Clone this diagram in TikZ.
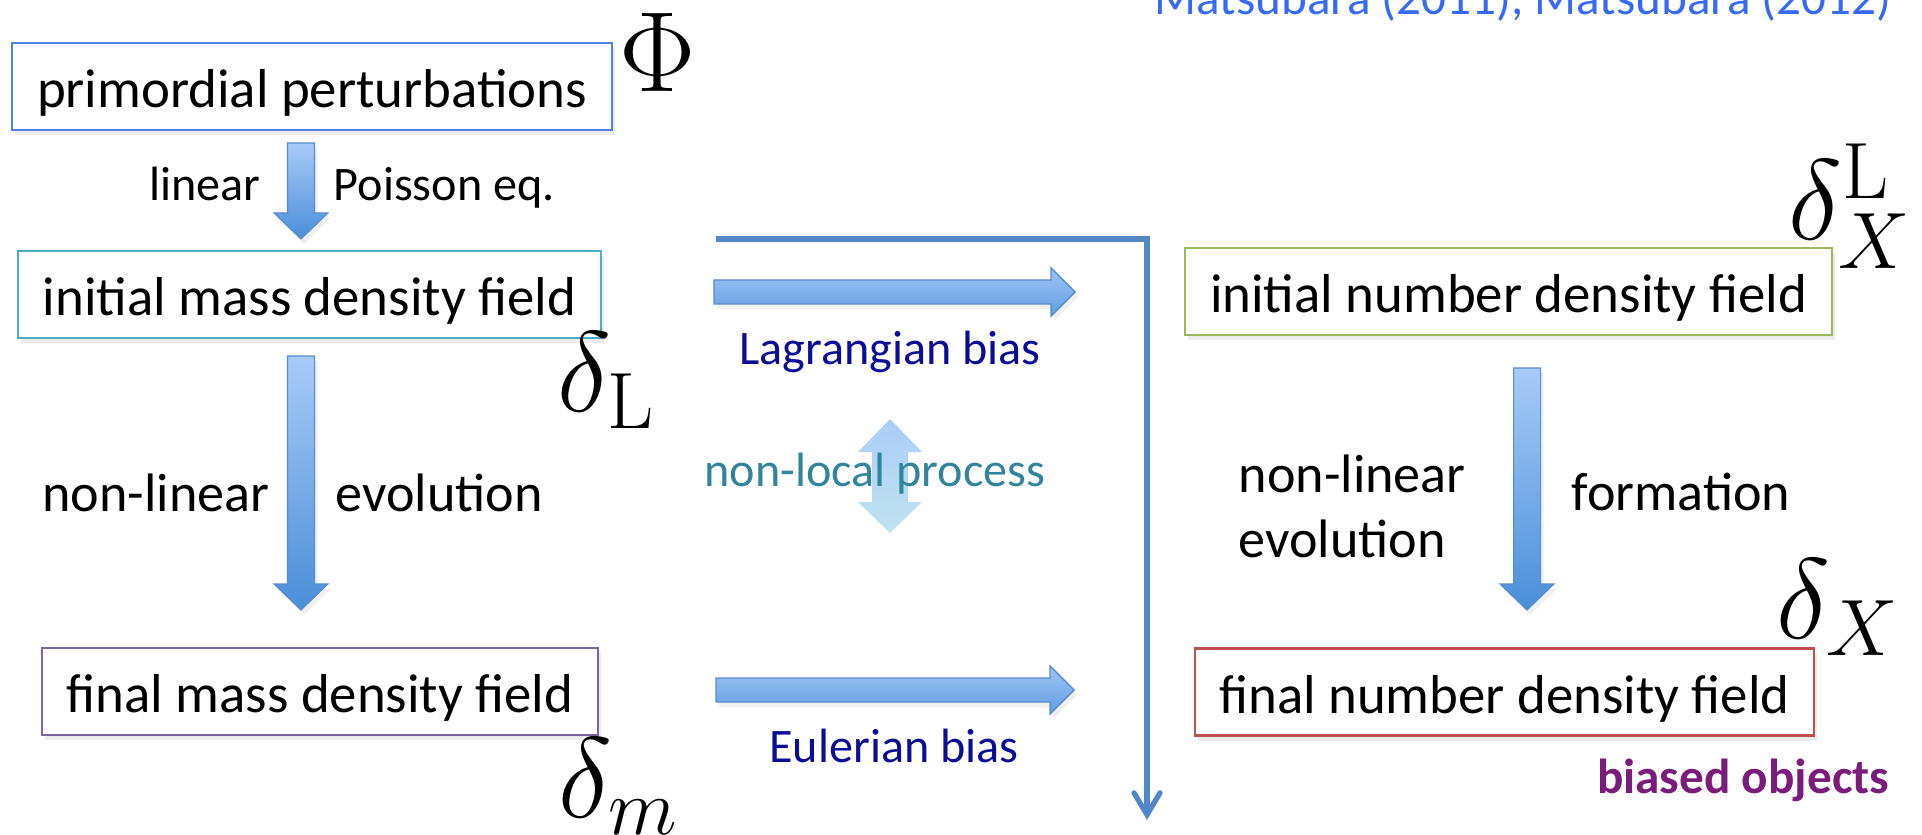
\RequirePackage{fix-cm}
\documentclass[tikz,border=0pt]{standalone}
\usepackage[no-math]{fontspec}
\setmainfont{Carlito}
\usetikzlibrary{calc,arrows.meta,shadows}

\definecolor{bprim}{RGB}{79,129,230}
\definecolor{bimass}{RGB}{75,172,198}
\definecolor{bfmass}{RGB}{128,100,162}
\definecolor{binum}{RGB}{155,187,89}
\definecolor{bfnum}{RGB}{192,80,77}
\definecolor{fattop}{RGB}{168,203,248}
\definecolor{fatbot}{RGB}{74,142,217}
\definecolor{fatedge}{RGB}{88,140,205}
\definecolor{splitc}{RGB}{84,135,200}
\definecolor{biasc}{RGB}{12,12,150}
\definecolor{nlocc}{RGB}{49,132,155}
\definecolor{objc}{RGB}{122,28,122}
\definecolor{refc}{RGB}{55,105,245}
\definecolor{dbltop}{RGB}{170,204,248}
\definecolor{dblbot}{RGB}{192,228,240}

% fat block arrows between two named coordinates
\newcommand{\vfat}[2]{%
  \shade[fatv] ($(#1)+(-13.5,0)$) -- ($(#1)+(13.5,0)$) -- ($(#2)+(13.5,26)$)
    -- ($(#2)+(27,26)$) -- (#2) -- ($(#2)+(-27,26)$) -- ($(#2)+(-13.5,26)$) -- cycle;}
\newcommand{\hfat}[2]{%
  \shade[fath] ($(#1)+(0,12)$) -- ($(#2)+(-24,12)$) -- ($(#2)+(-24,24)$) -- (#2)
    -- ($(#2)+(-24,-24)$) -- ($(#2)+(-24,-12)$) -- ($(#1)+(0,-12)$) -- cycle;}

\begin{document}
\begin{tikzpicture}[x=0.1mm, y=0.1mm,
  box/.style={draw, line width=0.6pt, fill=white, inner sep=0pt, minimum height=8.7mm,
    text height=5.2mm, text depth=1mm, font=\fontsize{15.6}{18}\selectfont,
    drop shadow={opacity=0.15, shadow xshift=0.3mm, shadow yshift=-0.5mm}},
  fatv/.style={top color=fattop, bottom color=fatbot, draw=fatedge, line width=0.3pt,
    drop shadow={opacity=0.12, shadow xshift=0.3mm, shadow yshift=-0.5mm}},
  fath/.style={top color=fattop!90!fatbot, bottom color=fatbot!75!fattop, draw=fatedge,
    line width=0.4pt, drop shadow={opacity=0.12, shadow xshift=0.3mm, shadow yshift=-0.5mm}},
  labbig/.style={font=\fontsize{15.4}{18}\selectfont, inner sep=0pt},
  labsmall/.style={font=\fontsize{13.7}{16}\selectfont, inner sep=0pt},
  sym/.style={font=\fontsize{32.5}{36}\selectfont, inner sep=0pt},
  splitline/.style={draw=splitc, line width=1.5pt,
    -{Straight Barb[length=2.2mm, width=2.6mm, line cap=round]}}]
  \useasboundingbox (0,0) rectangle (1922,-834);

  % mass side
  \node[box, draw=bprim, minimum width=60mm] (prim) at (312,-86.5) {primordial perturbations};
  \node[box, draw=bimass, minimum width=58.3mm] (imass) at (309.5,-294.5) {initial mass density field};
  \node[box, draw=bfmass, minimum width=55.6mm] (fmass) at (320,-691.5) {final mass density field};
  % number side
  \node[box, draw=binum, minimum width=64.7mm] (inum) at (1508.5,-291.5) {initial number density field};
  \node[box, draw=bfnum, minimum width=61.9mm] (fnum) at (1504.5,-692) {final number density field};

  % fat arrows
  \coordinate (a1s) at (301,-143);  \coordinate (a1e) at (301,-239);
  \coordinate (a2s) at (301,-356);  \coordinate (a2e) at (301,-610);
  \coordinate (a3s) at (1527,-368); \coordinate (a3e) at (1527,-610);
  \coordinate (lgs) at (714,-292);  \coordinate (lge) at (1075,-292);
  \coordinate (eus) at (716,-690);  \coordinate (eue) at (1074,-690);
  \vfat{a1s}{a1e}
  \vfat{a2s}{a2e}
  \vfat{a3s}{a3e}
  \hfat{lgs}{lge}
  \hfat{eus}{eue}

  % up-down arrow behind "non-local process"
  \shade[top color=dbltop, bottom color=dblbot] (890,-419) -- (922,-452) -- (908,-452)
    -- (908,-502) -- (922,-502) -- (890,-533) -- (858,-502) -- (872,-502)
    -- (872,-452) -- (858,-452) -- cycle;

  % corner line
  \coordinate (sl) at (716,-239);
  \coordinate (sc) at (1147,-239);
  \coordinate (sb) at (1147,-820);
  \draw[splitline] (sl) -- (sc) -- (sb);

  % labels
  \node[labsmall, anchor=base east] (lin) at (261,-201) {linear};
  \node[labsmall, anchor=base west] (poi) at (333,-201) {Poisson eq.};
  \node[labbig, anchor=base east] (nl1) at (270,-511) {non-linear};
  \node[labbig, anchor=base west] (ev1) at (335,-511) {evolution};
  \node[labbig, anchor=base west] (nl2) at (1238,-492) {non-linear};
  \node[labbig, anchor=base west] (ev2) at (1238,-557) {evolution};
  \node[labbig, anchor=base west] (form) at (1571,-510) {formation};
  \node[labsmall, text=biasc, anchor=base] (lagr) at (890,-364) {Lagrangian bias};
  \node[labsmall, text=nlocc, anchor=base] (nloc) at (875,-486) {non-local process};
  \node[labsmall, text=biasc, anchor=base] (eul) at (894,-762) {Eulerian bias};
  \node[labsmall, text=objc, font=\fontsize{14}{16}\selectfont\bfseries, anchor=base east] (obj) at (1890,-793) {biased objects};
  \node[labsmall, text=refc, font=\fontsize{14}{16}\selectfont, anchor=base east] (ref) at (1892,-15) {Matsubara (2011), Matsubara (2012)};

  % fields
  \node[sym, anchor=base west] (phi) at (619,-92) {$\Phi$};
  \node[sym, anchor=base west] (dL) at (557,-411) {$\delta_{\mathrm{L}}$};
  \node[sym, anchor=base west] (dm) at (558,-817) {$\delta_m$};
  \node[sym, anchor=base west] (dXL) at (1788,-240) {$\delta_X^{\mathrm{L}}$};
  \node[sym, anchor=base west] (dX) at (1776,-638) {$\delta_X$};
\end{tikzpicture}
\end{document}
